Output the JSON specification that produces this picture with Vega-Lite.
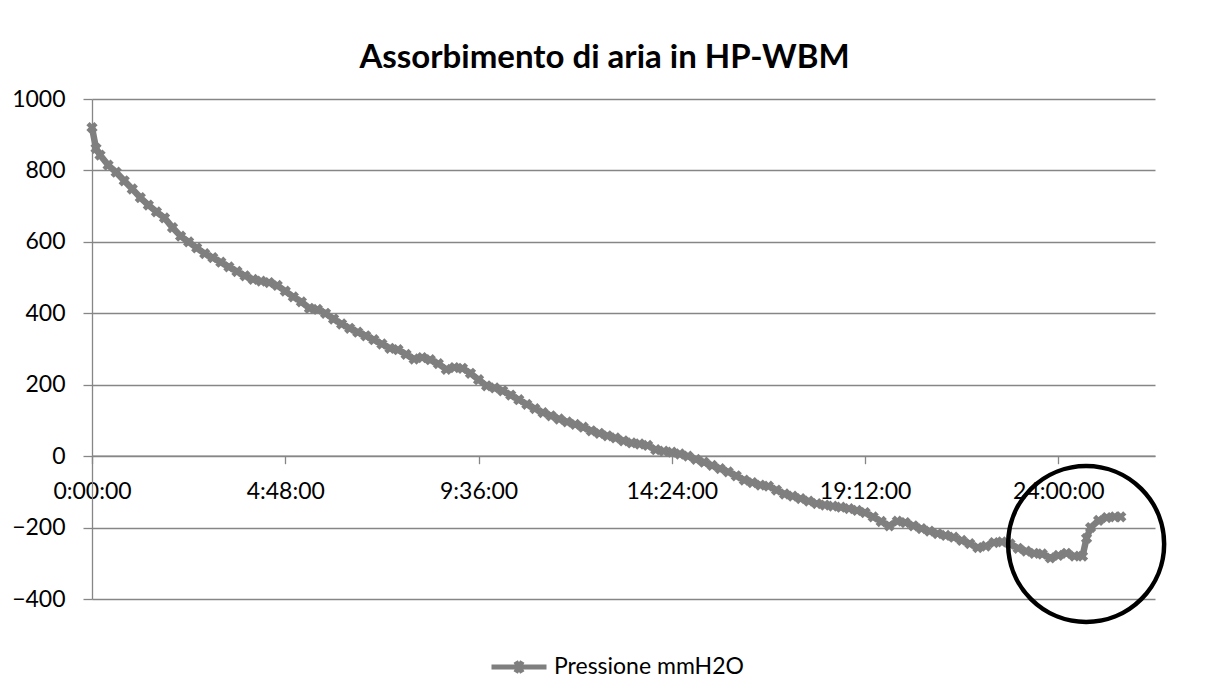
{
  "$schema": "https://vega.github.io/schema/vega-lite/v6.json",
  "autosize": {"type": "none"},
  "width": 1063,
  "height": 500,
  "padding": {"left": 92, "top": 99, "right": 54, "bottom": 87},
  "background": "white",
  "config": {"view": {"stroke": null}, "font": "Lato"},
  "title": {
    "text": "Assorbimento di aria in HP-WBM",
    "font": "Lato",
    "fontSize": 33,
    "fontWeight": "bold",
    "color": "black",
    "anchor": "middle",
    "dx": -19,
    "offset": 13
  },
  "datasets": {
    "serie": [
      {"t": 0.0, "v": 920}, {"t": 0.1, "v": 862}, {"t": 0.2, "v": 843}, {"t": 0.4, "v": 815},
      {"t": 0.6, "v": 795}, {"t": 0.8, "v": 771}, {"t": 1.0, "v": 748}, {"t": 1.2, "v": 724},
      {"t": 1.4, "v": 703}, {"t": 1.6, "v": 684}, {"t": 1.8, "v": 667}, {"t": 2.0, "v": 640},
      {"t": 2.2, "v": 616}, {"t": 2.4, "v": 600}, {"t": 2.6, "v": 583}, {"t": 2.8, "v": 567},
      {"t": 3.0, "v": 556}, {"t": 3.2, "v": 543}, {"t": 3.4, "v": 530}, {"t": 3.6, "v": 517},
      {"t": 3.8, "v": 505}, {"t": 4.0, "v": 495}, {"t": 4.2, "v": 490}, {"t": 4.4, "v": 486},
      {"t": 4.6, "v": 478}, {"t": 4.8, "v": 462}, {"t": 5.0, "v": 446}, {"t": 5.2, "v": 432},
      {"t": 5.4, "v": 414}, {"t": 5.6, "v": 411}, {"t": 5.8, "v": 400}, {"t": 6.0, "v": 384},
      {"t": 6.2, "v": 370}, {"t": 6.4, "v": 358}, {"t": 6.6, "v": 347}, {"t": 6.8, "v": 337},
      {"t": 7.0, "v": 326}, {"t": 7.2, "v": 314}, {"t": 7.4, "v": 302}, {"t": 7.6, "v": 298},
      {"t": 7.8, "v": 285}, {"t": 8.0, "v": 272}, {"t": 8.2, "v": 276}, {"t": 8.4, "v": 270},
      {"t": 8.6, "v": 259}, {"t": 8.8, "v": 243}, {"t": 9.0, "v": 248}, {"t": 9.2, "v": 246},
      {"t": 9.4, "v": 232}, {"t": 9.6, "v": 214}, {"t": 9.8, "v": 197}, {"t": 10.0, "v": 191},
      {"t": 10.2, "v": 183}, {"t": 10.4, "v": 171}, {"t": 10.6, "v": 158}, {"t": 10.8, "v": 145},
      {"t": 11.0, "v": 133}, {"t": 11.2, "v": 122}, {"t": 11.4, "v": 113}, {"t": 11.6, "v": 104},
      {"t": 11.8, "v": 96}, {"t": 12.0, "v": 89}, {"t": 12.2, "v": 81}, {"t": 12.4, "v": 71},
      {"t": 12.6, "v": 64}, {"t": 12.8, "v": 57}, {"t": 13.0, "v": 51}, {"t": 13.2, "v": 43},
      {"t": 13.4, "v": 37}, {"t": 13.6, "v": 34}, {"t": 13.8, "v": 30}, {"t": 14.0, "v": 18},
      {"t": 14.2, "v": 14}, {"t": 14.4, "v": 11}, {"t": 14.6, "v": 6}, {"t": 14.8, "v": 0},
      {"t": 15.0, "v": -9}, {"t": 15.2, "v": -17}, {"t": 15.4, "v": -26}, {"t": 15.6, "v": -35},
      {"t": 15.8, "v": -44}, {"t": 16.0, "v": -55}, {"t": 16.2, "v": -67}, {"t": 16.4, "v": -74},
      {"t": 16.6, "v": -81}, {"t": 16.8, "v": -84}, {"t": 17.0, "v": -95}, {"t": 17.2, "v": -106},
      {"t": 17.4, "v": -112}, {"t": 17.6, "v": -119}, {"t": 17.8, "v": -126}, {"t": 18.0, "v": -133},
      {"t": 18.2, "v": -137}, {"t": 18.4, "v": -140}, {"t": 18.6, "v": -143}, {"t": 18.8, "v": -147},
      {"t": 19.0, "v": -152}, {"t": 19.2, "v": -158}, {"t": 19.4, "v": -170}, {"t": 19.6, "v": -183},
      {"t": 19.8, "v": -195}, {"t": 20.0, "v": -182}, {"t": 20.2, "v": -186}, {"t": 20.4, "v": -195},
      {"t": 20.6, "v": -203}, {"t": 20.8, "v": -210}, {"t": 21.0, "v": -217}, {"t": 21.2, "v": -222},
      {"t": 21.4, "v": -227}, {"t": 21.6, "v": -236}, {"t": 21.8, "v": -245}, {"t": 22.0, "v": -256},
      {"t": 22.2, "v": -252}, {"t": 22.4, "v": -242}, {"t": 22.6, "v": -240}, {"t": 22.8, "v": -246},
      {"t": 23.0, "v": -258}, {"t": 23.2, "v": -266}, {"t": 23.4, "v": -272}, {"t": 23.6, "v": -274},
      {"t": 23.8, "v": -285}, {"t": 24.0, "v": -278}, {"t": 24.2, "v": -272}, {"t": 24.4, "v": -280},
      {"t": 24.6, "v": -280}, {"t": 24.7, "v": -230}, {"t": 24.8, "v": -200}, {"t": 25.0, "v": -180},
      {"t": 25.2, "v": -172}, {"t": 25.4, "v": -170}, {"t": 25.55, "v": -170}
    ],
    "annot": [{"t": 24.69, "v": -246}]
  },
  "encoding": {
    "x": {
      "field": "t",
      "type": "quantitative",
      "scale": {"domain": [0, 26.4], "nice": false, "zero": false},
      "axis": {
        "values": [0, 4.8, 9.6, 14.4, 19.2, 24],
        "labelExpr": "floor(datum.value) + ':' + (round((datum.value - floor(datum.value)) * 60) < 10 ? '0' : '') + round((datum.value - floor(datum.value)) * 60) + ':00'",
        "offset": -143.3,
        "grid": false,
        "title": null,
        "domainColor": "#868686",
        "domainWidth": 1.3,
        "tickColor": "#868686",
        "tickSize": 8,
        "tickWidth": 1.3,
        "labelFont": "Lato",
        "labelFontSize": 23,
        "labelColor": "black",
        "labelPadding": 17,
        "labelFlush": false,
        "labelOverlap": false
      }
    },
    "y": {
      "field": "v",
      "type": "quantitative",
      "scale": {"domain": [-400, 1000], "nice": false, "zero": false},
      "axis": {
        "values": [-400, -200, 0, 200, 400, 600, 800, 1000],
        "format": "d",
        "title": null,
        "grid": true,
        "gridColor": "#868686",
        "gridWidth": 1.3,
        "domainColor": "#868686",
        "domainWidth": 1.3,
        "tickColor": "#868686",
        "tickSize": 9,
        "tickWidth": 1.3,
        "labelFont": "Lato",
        "labelFontSize": 23,
        "labelColor": "black",
        "labelPadding": 18,
        "labelFlush": false,
        "labelOverlap": false
      }
    }
  },
  "layer": [
    {
      "data": {"name": "serie"},
      "mark": {"type": "line", "strokeWidth": 6.5, "strokeJoin": "round"},
      "encoding": {
        "color": {
          "datum": "Pressione mmH2O",
          "scale": {"range": ["#7f7f7f"]},
          "legend": {
            "orient": "none",
            "legendX": 397,
            "legendY": 538,
            "title": null,
            "symbolType": "M-1,0L1,0M-0.12,-0.2L0.12,0.2M0.12,-0.2L-0.12,0.2",
            "symbolSize": 3025,
            "symbolStrokeWidth": 5,
            "symbolStrokeColor": "#7f7f7f",
            "labelFont": "Lato",
            "labelFontSize": 23,
            "labelColor": "black",
            "labelOffset": 5,
            "labelLimit": 400
          }
        }
      }
    },
    {
      "data": {"name": "serie"},
      "mark": {"type": "point", "shape": "cross", "angle": 45, "filled": true, "size": 130, "color": "#7f7f7f", "opacity": 1}
    },
    {
      "data": {"name": "annot"},
      "mark": {"type": "point", "shape": "circle", "filled": false, "size": 24336, "stroke": "black", "strokeWidth": 4.5, "opacity": 1}
    }
  ]
}
